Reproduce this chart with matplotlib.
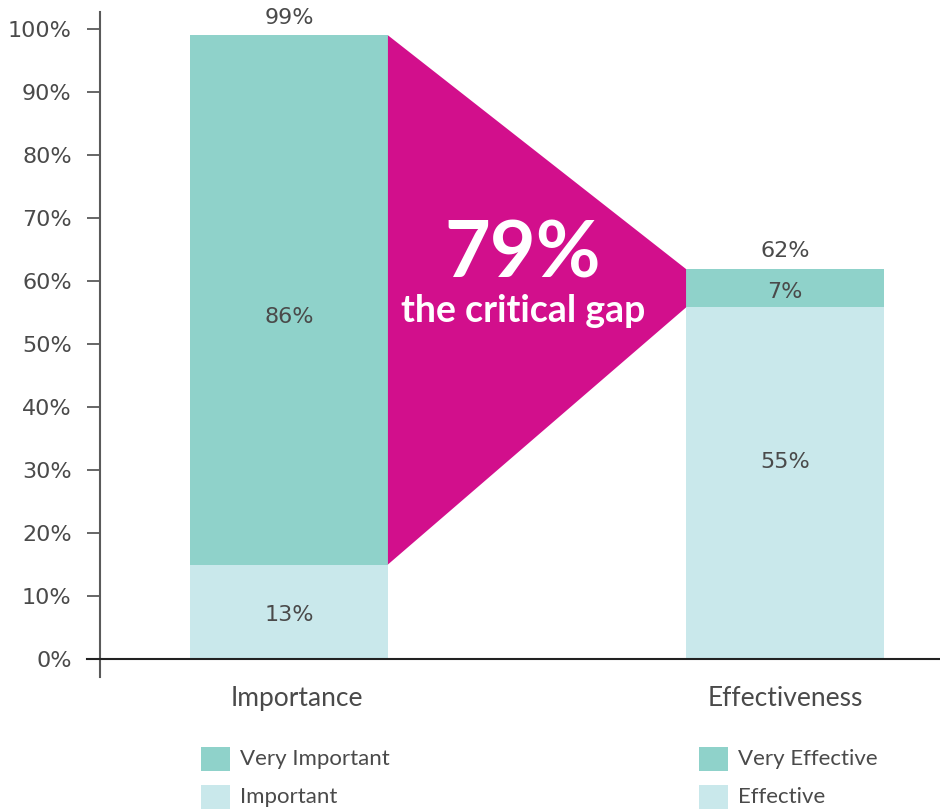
import matplotlib
matplotlib.use("Agg")
import matplotlib.pyplot as plt
from matplotlib.patches import Polygon, Rectangle
from matplotlib.transforms import blended_transform_factory

# Data
categories = ['Importance', 'Effectiveness']
segment_names = [['Important', 'Very Important'], ['Effective', 'Very Effective']]
# drawn segment heights (bottom, top) in percent
importance_segments = [15, 84]
effectiveness_segments = [55.8, 6.1]
# printed labels
importance_labels = ['13%', '86%']
effectiveness_labels = ['55%', '7%']
total_labels = ['99%', '62%']
gap_value = '79%'
gap_text = 'the critical gap'
yticks = list(range(0, 101, 10))

# Styling
dark_teal = '#8fd2ca'
light_teal = '#c9e8eb'
magenta = '#d20f8c'
text_col = '#4a4a4a'
axis_col = '#5a5a5a'
W, H = 940, 810
bar_width = 0.399
label_shift = [[-0.5, -2.7], [3.4, -0.6]]  # nudges of the in-bar labels, in %

fig = plt.figure(figsize=(W / 100, H / 100), dpi=100)
ax = fig.add_axes([100 / W, (H - 677) / H, 840 / W, (677 - 12) / H])
ax.set_xlim(-0.381, 1.3125)
ax.set_ylim(-18 / 6.3, 647 / 6.3)

segments = [importance_segments, effectiveness_segments]
labels = [importance_labels, effectiveness_labels]
colors = [light_teal, dark_teal]

for i, (segs, labs) in enumerate(zip(segments, labels)):
    bottom = 0
    for j, (h, lab) in enumerate(zip(segs, labs)):
        ax.bar(i, h, bottom=bottom, width=bar_width, color=colors[j], linewidth=0)
        ax.text(i, bottom + h / 2 + label_shift[i][j], lab, ha='center', va='center',
                fontsize=16, color=text_col, family='DejaVu Sans')
        bottom += h
    ax.text(i, bottom + 1.2, total_labels[i], ha='center', va='bottom',
            fontsize=16, color=text_col, family='DejaVu Sans')

# Gap polygon between bar tops
imp_top = sum(importance_segments)
imp_low = importance_segments[0]
eff_top = sum(effectiveness_segments)
eff_low = effectiveness_segments[0]
x0 = 0 + bar_width / 2
x1 = 1 - bar_width / 2
poly = Polygon([(x0, imp_top), (x0, imp_low), (x1, eff_low), (x1, eff_top)],
               closed=True, facecolor=magenta, edgecolor='none', zorder=3)
ax.add_patch(poly)
xc = 0.472
ax.text(xc, 64.0, gap_value, ha='center', va='center', fontsize=57,
        fontweight='bold', color='white', family='Lato', zorder=4)
ax.text(xc, 55.2, gap_text, ha='center', va='center', fontsize=27,
        fontweight='bold', color='white', family='Lato', zorder=4)

# Axes
for s in ['top', 'right', 'bottom']:
    ax.spines[s].set_visible(False)
ax.spines['left'].set_color(axis_col)
ax.spines['left'].set_linewidth(1.5)
ax.set_yticks(yticks)
ax.set_yticklabels([f'{t}%' for t in yticks], family='DejaVu Sans',
                   fontsize=16, color=text_col)
ax.tick_params(axis='y', length=9.4, width=1.3, color=axis_col, pad=11)
ax.set_xticks([])
trans = blended_transform_factory(ax.transAxes, ax.transData)
ax.plot([-13 / 840, 1], [0, 0], transform=trans, color='#222222',
        linewidth=1.5, clip_on=False, zorder=5)

# Category labels
for i, c in enumerate(categories):
    ax.text(i + 0.016 * (1 - i), -6.2, c, ha='center', va='center',
            fontsize=19, color=text_col, family='Lato')

# Legend
legend_x = [201, 699]
legend_y = [759, 797]
for i, names in enumerate(segment_names):
    order = [1, 0]
    for r, j in enumerate(order):
        yc = legend_y[r]
        fig.patches.append(Rectangle((legend_x[i] / W, (H - yc - 12) / H),
                                     29 / W, 24 / H, transform=fig.transFigure,
                                     facecolor=colors[j], edgecolor='none'))
        fig.text((legend_x[i] + 39) / W, (H - yc) / H, names[j], ha='left',
                 va='center', fontsize=16, color=text_col, family='Lato')

fig.savefig('out.png', dpi=100)
